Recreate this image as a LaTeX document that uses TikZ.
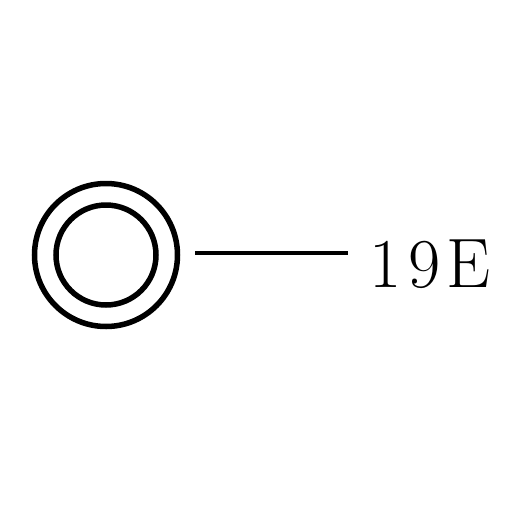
\documentclass[tikz,border=0pt]{standalone}
\begin{document}
\begin{tikzpicture}[x=1pt,y=-1pt,
  ring/.style={draw=black,line width=5.5pt},
  leader/.style={draw=black,line width=3.2pt},
  lbl/.style={inner sep=0pt,anchor=base west,font=\fontsize{70}{70}\selectfont}]
\useasboundingbox (0,0) rectangle (512,512);
\fill[white] (0,0) rectangle (512,512);
\node[ring,circle,minimum size=143pt,inner sep=0pt] (outer) at (106,255) {};
\node[ring,circle,minimum size=100pt,inner sep=0pt] (inner) at (106,255) {};
\node[lbl] (label) at (369,287) {1\hspace{7pt}9\hspace{6pt}E};
\coordinate (lstart) at (195,253);
\coordinate (lend) at (348,253);
\draw[leader] (lstart) -- (lend);
\end{tikzpicture}
\end{document}
